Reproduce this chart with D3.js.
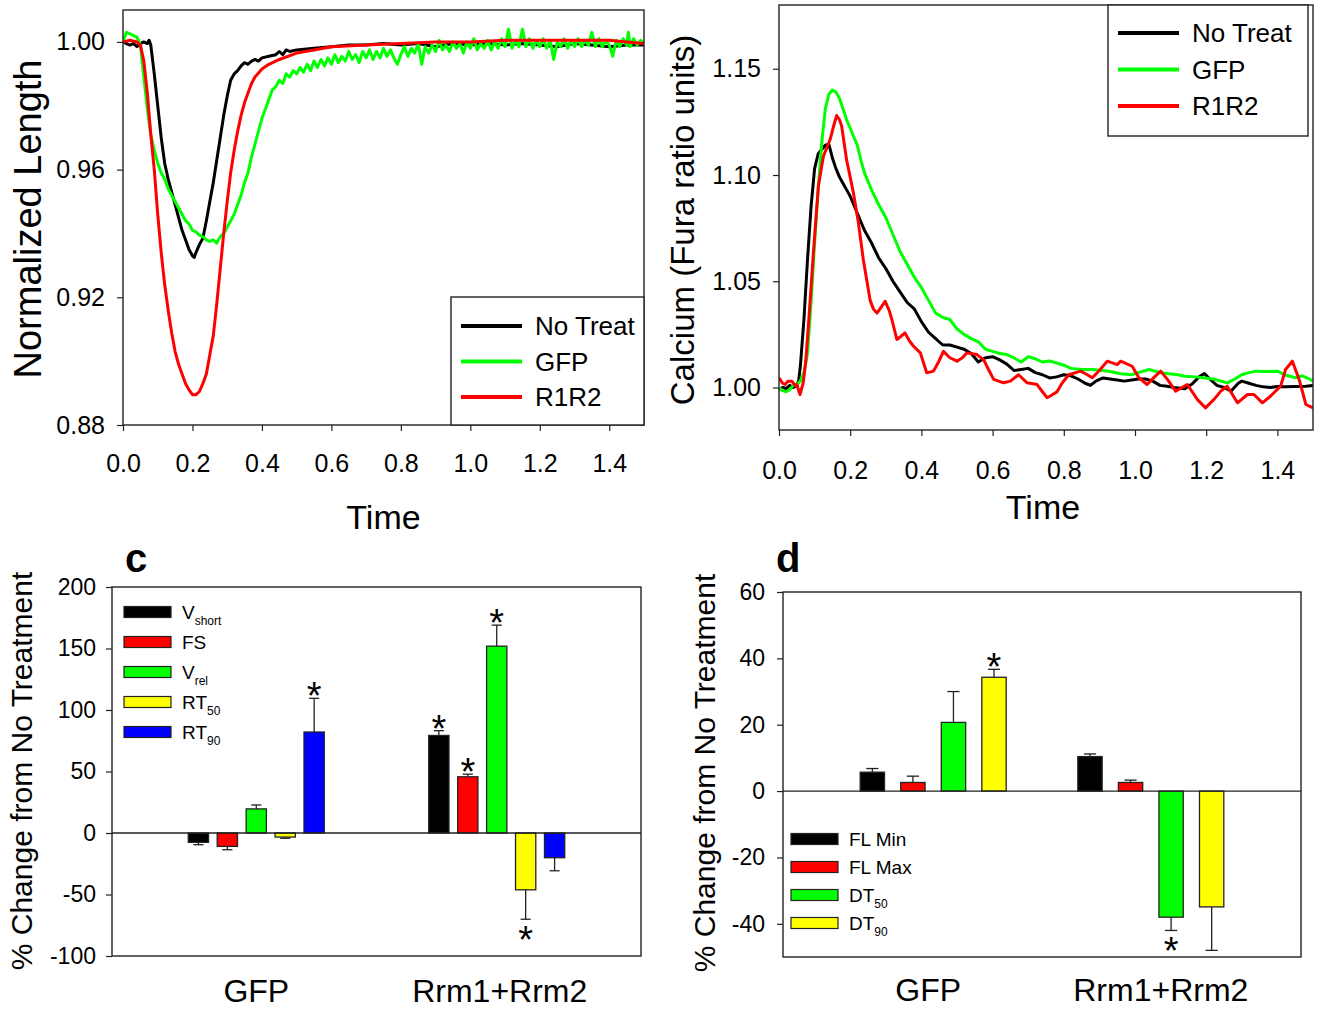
<!DOCTYPE html>
<html>
<head>
<meta charset="utf-8">
<script src="https://cdn.jsdelivr.net/npm/d3@7"></script>
<style>
  body { margin: 0; background: #fff; }
  svg text { font-family: "Liberation Sans", Arial, sans-serif; fill: #000; }
</style>
</head>
<body>
<svg id="fig" width="1323" height="1011"></svg>
<script>
// ---- panel a: normalized length traces, [time, value] ----
const lenNoTreat = [[0,1.000],[0.01,0.9995],[0.02,0.999],[0.03,0.9995],[0.04,0.9985],[0.05,0.9995],[0.06,1.000],[0.07,0.9995],[0.075,1.0005],
  [0.08,0.999],[0.09,0.990],[0.10,0.980],[0.11,0.970],[0.12,0.962],[0.13,0.957],[0.14,0.953],[0.15,0.949],[0.16,0.945],[0.17,0.941],
  [0.18,0.938],[0.19,0.935],[0.20,0.933],[0.205,0.9325],[0.21,0.934],[0.22,0.9365],[0.23,0.9385],[0.24,0.944],[0.25,0.950],[0.26,0.956],
  [0.27,0.963],[0.28,0.970],[0.29,0.977],[0.30,0.983],[0.31,0.988],[0.32,0.990],[0.33,0.991],[0.34,0.9925],[0.35,0.9935],[0.36,0.993],
  [0.37,0.994],[0.38,0.9945],[0.39,0.994],[0.40,0.995],[0.42,0.9955],[0.44,0.996],[0.45,0.997],[0.46,0.996],[0.47,0.9975],[0.48,0.997],
  [0.50,0.9975],[0.55,0.998],[0.60,0.9985],[0.65,0.999],[0.70,0.999],[0.75,0.9995],[0.80,0.999],[0.85,0.9995],[0.90,0.9985],[0.95,0.9995],
  [1.00,0.999],[1.05,0.9995],[1.10,0.999],[1.15,0.9995],[1.20,0.999],[1.25,0.9985],[1.30,0.9995],[1.35,0.999],[1.40,0.9985],[1.45,0.999],[1.50,0.999]];
const lenGFP = [[0,1.000],[0.01,1.003],[0.02,1.0025],[0.03,1.002],[0.04,1.0015],[0.05,0.999],[0.06,0.989],[0.07,0.979],[0.08,0.971],
  [0.09,0.966],[0.10,0.962],[0.11,0.959],[0.12,0.957],[0.13,0.954],[0.14,0.952],[0.15,0.950],[0.16,0.948],[0.17,0.946],[0.18,0.944],
  [0.19,0.943],[0.20,0.941],[0.21,0.9405],[0.22,0.9395],[0.23,0.939],[0.24,0.938],[0.25,0.9375],[0.26,0.938],[0.27,0.937],[0.28,0.939],
  [0.29,0.940],[0.30,0.942],[0.31,0.944],[0.32,0.946],[0.33,0.949],[0.34,0.952],[0.35,0.956],[0.36,0.959],[0.37,0.964],[0.38,0.968],
  [0.39,0.972],[0.40,0.976],[0.41,0.979],[0.42,0.982],[0.43,0.985],[0.44,0.986],[0.45,0.988],[0.46,0.987],[0.47,0.990],[0.48,0.989],
  [0.49,0.991],[0.50,0.990],[0.51,0.992],[0.52,0.9905],[0.53,0.993],[0.54,0.991],[0.55,0.994],[0.56,0.992],[0.57,0.9945],[0.58,0.9925],
  [0.59,0.995],[0.60,0.993],[0.61,0.996],[0.62,0.9935],[0.63,0.9955],[0.64,0.994],[0.65,0.997],[0.66,0.9945],[0.67,0.996],[0.68,0.9935],
  [0.69,0.997],[0.70,0.995],[0.71,0.9975],[0.72,0.9945],[0.73,0.997],[0.74,0.995],[0.75,0.998],[0.76,0.9955],[0.77,0.9975],[0.78,0.995],
  [0.79,0.993],[0.80,0.996],[0.81,0.9985],[0.82,0.9955],[0.83,0.998],[0.84,0.9965],[0.85,0.9995],[0.86,0.993],[0.87,0.9985],[0.88,0.9965],
  [0.89,0.999],[0.90,0.997],[0.91,1.0005],[0.92,0.9975],[0.93,0.999],[0.94,0.997],[0.95,1.000],[0.96,0.998],[0.97,0.9995],[0.98,0.9965],
  [0.99,1.000],[1.00,0.998],[1.01,1.001],[1.02,0.9975],[1.03,0.9995],[1.04,0.998],[1.05,1.0005],[1.06,0.9975],[1.07,1.000],[1.08,0.998],
  [1.09,1.001],[1.10,0.9985],[1.11,1.004],[1.12,0.998],[1.13,1.0005],[1.14,0.9985],[1.15,1.004],[1.16,0.9985],[1.17,1.001],[1.18,0.998],
  [1.19,1.0005],[1.20,0.9985],[1.21,1.001],[1.22,0.998],[1.23,1.0005],[1.24,0.9945],[1.25,1.000],[1.26,0.9985],[1.27,1.001],[1.28,0.998],
  [1.29,1.0005],[1.30,0.9985],[1.31,1.001],[1.32,0.9985],[1.33,1.0005],[1.34,0.999],[1.35,1.003],[1.36,0.9985],[1.37,1.001],[1.38,0.9985],
  [1.39,1.0005],[1.40,0.999],[1.41,0.9955],[1.42,1.0005],[1.43,0.9985],[1.44,1.001],[1.45,0.999],[1.455,1.003],[1.46,0.9985],[1.47,1.001],
  [1.48,0.999],[1.49,1.0005],[1.50,0.9995]];
const lenR1R2 = [[0,1.000],[0.02,1.0005],[0.04,1.000],[0.05,0.999],[0.06,0.994],[0.07,0.984],[0.08,0.971],[0.09,0.960],[0.10,0.946],
  [0.11,0.934],[0.12,0.924],[0.13,0.916],[0.14,0.909],[0.15,0.903],[0.16,0.899],[0.17,0.896],[0.18,0.893],[0.19,0.891],[0.20,0.8895],
  [0.21,0.8895],[0.22,0.8905],[0.23,0.893],[0.24,0.896],[0.25,0.902],[0.26,0.908],[0.27,0.918],[0.28,0.929],[0.29,0.940],[0.30,0.950],
  [0.31,0.959],[0.32,0.966],[0.33,0.972],[0.34,0.977],[0.35,0.981],[0.36,0.984],[0.37,0.987],[0.38,0.989],[0.40,0.9915],[0.42,0.993],
  [0.45,0.9945],[0.50,0.9965],[0.55,0.9975],[0.60,0.9985],[0.70,0.999],[0.80,0.9995],[0.90,1.000],[1.00,1.000],[1.10,1.0005],
  [1.20,1.0005],[1.30,1.0005],[1.40,1.0005],[1.45,1.000],[1.50,0.9995]];

// ---- panel b: calcium traces ----
const caNoTreat = [[0,0.999],[0.01,1.000],[0.02,0.9995],[0.03,1.001],[0.04,1.000],[0.05,1.001],[0.055,1.003],[0.06,1.010],[0.07,1.032],
  [0.08,1.060],[0.09,1.085],[0.10,1.103],[0.11,1.110],[0.12,1.112],[0.13,1.114],[0.14,1.1145],[0.15,1.108],[0.16,1.103],[0.17,1.099],
  [0.18,1.096],[0.19,1.093],[0.20,1.090],[0.22,1.082],[0.24,1.074],[0.26,1.068],[0.28,1.061],[0.30,1.056],[0.32,1.050],[0.34,1.045],
  [0.36,1.040],[0.38,1.037],[0.40,1.031],[0.42,1.026],[0.44,1.023],[0.46,1.020],[0.48,1.020],[0.50,1.019],[0.52,1.018],[0.54,1.016],
  [0.56,1.012],[0.58,1.014],[0.60,1.0145],[0.62,1.013],[0.64,1.011],[0.66,1.008],[0.68,1.0085],[0.70,1.009],[0.72,1.007],[0.74,1.006],
  [0.76,1.0045],[0.78,1.005],[0.80,1.006],[0.82,1.0055],[0.84,1.004],[0.86,1.002],[0.875,1.001],[0.89,1.003],[0.91,1.0045],[0.93,1.004],
  [0.95,1.0035],[0.97,1.003],[0.99,1.0035],[1.01,1.004],[1.03,1.004],[1.05,1.003],[1.07,1.001],[1.09,1.0006],[1.11,1.000],[1.14,0.9994],
  [1.16,1.0016],[1.18,1.005],[1.195,1.0066],[1.21,1.004],[1.23,1.001],[1.25,1.000],[1.27,0.9983],[1.29,1.002],[1.30,1.003],[1.32,1.002],
  [1.34,1.001],[1.36,1.0003],[1.38,1.000],[1.40,1.0005],[1.42,1.0003],[1.45,1.0005],[1.48,1.0006],[1.50,1.001]];
const caGFP = [[0,1.000],[0.01,0.9985],[0.02,0.998],[0.03,0.999],[0.04,1.001],[0.05,1.0015],[0.06,1.003],[0.07,1.007],[0.08,1.016],
  [0.09,1.040],[0.10,1.068],[0.11,1.093],[0.12,1.115],[0.13,1.131],[0.14,1.138],[0.15,1.140],[0.16,1.139],[0.17,1.136],[0.18,1.131],
  [0.19,1.126],[0.20,1.122],[0.21,1.118],[0.22,1.114],[0.23,1.107],[0.24,1.101],[0.25,1.097],[0.26,1.093],[0.28,1.086],[0.30,1.080],
  [0.32,1.072],[0.34,1.064],[0.36,1.058],[0.38,1.052],[0.40,1.047],[0.42,1.041],[0.44,1.035],[0.46,1.033],[0.48,1.032],[0.50,1.0275],
  [0.52,1.025],[0.54,1.023],[0.56,1.0215],[0.58,1.018],[0.60,1.017],[0.62,1.016],[0.64,1.0155],[0.66,1.014],[0.68,1.012],[0.70,1.0145],
  [0.72,1.0135],[0.74,1.012],[0.76,1.0125],[0.78,1.0115],[0.80,1.0105],[0.82,1.009],[0.85,1.0085],[0.88,1.0085],[0.91,1.008],[0.93,1.0075],
  [0.96,1.0065],[0.99,1.006],[1.02,1.0075],[1.04,1.0085],[1.07,1.007],[1.09,1.0066],[1.12,1.006],[1.14,1.0053],[1.17,1.005],[1.19,1.0046],
  [1.22,1.004],[1.26,1.0022],[1.28,1.004],[1.30,1.006],[1.32,1.007],[1.34,1.0077],[1.37,1.0075],[1.40,1.0077],[1.42,1.006],[1.45,1.0046],
  [1.47,1.0055],[1.49,1.004],[1.50,1.003]];
const caR1R2 = [[0,1.0046],[0.01,1.002],[0.017,1.0014],[0.025,1.003],[0.036,1.003],[0.045,1.001],[0.05,1.0014],[0.059,0.9967],[0.068,1.0022],
  [0.075,1.012],[0.0825,1.029],[0.09,1.047],[0.0966,1.0634],[0.104,1.080],[0.1106,1.0947],[0.1247,1.1088],[0.1435,1.1167],[0.155,1.124],
  [0.162,1.128],[0.17,1.126],[0.176,1.123],[0.19,1.107],[0.20,1.099],[0.209,1.0916],[0.223,1.0775],[0.237,1.060],[0.256,1.041],[0.265,1.037],
  [0.275,1.035],[0.288,1.038],[0.298,1.0406],[0.31,1.036],[0.317,1.032],[0.331,1.0226],[0.342,1.024],[0.354,1.0257],[0.366,1.022],
  [0.378,1.0194],[0.397,1.0163],[0.415,1.0069],[0.434,1.0077],[0.448,1.012],[0.462,1.017],[0.48,1.014],[0.50,1.0124],[0.515,1.014],
  [0.528,1.0163],[0.556,1.0155],[0.575,1.013],[0.59,1.008],[0.603,1.0038],[0.631,1.0022],[0.65,1.003],[0.673,1.006],[0.697,1.0022],
  [0.725,1.0014],[0.74,0.998],[0.753,0.9952],[0.762,0.996],[0.781,0.998],[0.795,1.002],[0.814,1.006],[0.847,1.0077],[0.866,1.006],
  [0.88,1.0046],[0.90,1.008],[0.922,1.0124],[0.95,1.0108],[0.96,1.0124],[0.992,1.010],[1.011,1.0046],[1.034,1.0014],[1.055,1.005],
  [1.072,1.0077],[1.091,1.0038],[1.114,0.9983],[1.147,1.0014],[1.175,0.9944],[1.198,0.9904],[1.222,0.9944],[1.241,0.9983],[1.259,1.0006],
  [1.288,0.9928],[1.316,0.9967],[1.334,0.9967],[1.358,0.9928],[1.381,0.996],[1.409,1.0006],[1.423,1.0085],[1.442,1.0124],[1.461,1.0038],
  [1.48,0.992],[1.50,0.9904]];

const traceNames = ["No Treat", "GFP", "R1R2"];
const traceColors = ["#000000", "#00ff00", "#ff0000"];
const timeTicks = [0, 0.2, 0.4, 0.6, 0.8, 1.0, 1.2, 1.4];
const lenTicks = [0.88, 0.92, 0.96, 1.00];
const caTicks = [1.00, 1.05, 1.10, 1.15];

// ---- panel c / d: % change bars ----
const groups = ["GFP", "Rrm1+Rrm2"];
const cNames = ["V", "FS", "V", "RT", "RT"];
const cSubs = ["short", "", "rel", "50", "90"];
const cColors = ["#000000", "#ff0000", "#00ff00", "#ffff00", "#0000ff"];
const cGFP = [-7.6, -10.9, 19.6, -3.3, 82.1];
const cGFPErr = [1.9, 2.7, 3.2, 1.0, 27.4];
const cRrm = [79.3, 45.7, 151.9, -46.2, -20.1];
const cRrmErr = [3.9, 2.1, 17.1, 23.9, 10.6];
const cStars = [[0, 0, 0, 0, 1], [1, 1, 1, 1, 0]];
const cTicks = [-100, -50, 0, 50, 100, 150, 200];

const dNames = ["FL Min", "FL Max", "DT", "DT"];
const dSubs = ["", "", "50", "90"];
const dColors = ["#000000", "#ff0000", "#00ff00", "#ffff00"];
const dGFP = [5.7, 2.6, 20.7, 34.3];
const dGFPErr = [1.1, 1.9, 9.3, 2.4];
const dRrm = [10.4, 2.6, -38.0, -34.9];
const dRrmErr = [0.8, 0.7, 4.0, 13.1];
const dStars = [[0, 0, 0, 1], [0, 0, 1, 0]];
const dTicks = [-40, -20, 0, 20, 40, 60];

const svg = d3.select("#fig");

// ---------- line panels ----------
function tracePanel(o) {
  const x = d3.scaleLinear().domain([0, 1.5]).range([o.left, o.right]);
  const y = d3.scaleLinear().domain(o.yDomain).range([o.bottom, o.top]);
  const g = svg.append("g");
  const clipId = "clip" + o.id;
  g.append("clipPath").attr("id", clipId).append("rect")
    .attr("x", o.left).attr("y", o.top).attr("width", o.right - o.left).attr("height", o.bottom - o.top);

  const line = d3.line().x(d => x(d[0])).y(d => y(d[1]));
  o.series.forEach((s, i) => {
    g.append("path").datum(s)
      .attr("clip-path", `url(#${clipId})`)
      .attr("fill", "none").attr("stroke", traceColors[i])
      .attr("stroke-width", 3).attr("stroke-linejoin", "round")
      .attr("d", line);
  });
  g.append("rect").attr("x", o.left).attr("y", o.top)
    .attr("width", o.right - o.left).attr("height", o.bottom - o.top)
    .attr("fill", "none").attr("stroke", "#222").attr("stroke-width", 1.4);

  const xa = g.append("g").attr("transform", `translate(0,${o.bottom})`)
    .call(d3.axisBottom(x).tickValues(timeTicks).tickFormat(d3.format(".1f")).tickSize(6).tickSizeOuter(0));
  xa.select(".domain").remove();
  xa.selectAll("line").attr("stroke", "#222").attr("stroke-width", 1.2);
  xa.selectAll("text").attr("y", o.xLabY).attr("dy", 0).attr("font-size", 25);

  const ya = g.append("g").attr("transform", `translate(${o.left},0)`)
    .call(d3.axisLeft(y).tickValues(o.yTicks).tickFormat(d3.format(".2f")).tickSize(6).tickPadding(12).tickSizeOuter(0));
  ya.select(".domain").remove();
  ya.selectAll("line").attr("stroke", "#222").attr("stroke-width", 1.2);
  ya.selectAll("text").attr("font-size", 25);

  g.append("text").attr("x", (o.left + o.right) / 2 + o.timeDx).attr("y", o.timeY)
    .attr("text-anchor", "middle").attr("font-size", 34).text("Time");
  g.append("text")
    .attr("transform", `translate(${o.yLabX},${o.yLabY}) rotate(-90)`)
    .attr("text-anchor", "middle").attr("font-size", o.yLabSize).text(o.yLabel);

  // legend
  const lg = g.append("g");
  lg.append("rect").attr("x", o.leg.x).attr("y", o.leg.y).attr("width", o.leg.w).attr("height", o.leg.h)
    .attr("fill", "#fff").attr("stroke", "#222").attr("stroke-width", 1.4);
  traceNames.forEach((n, i) => {
    const ry = o.leg.y + o.leg.row0 + i * o.leg.step;
    lg.append("line").attr("x1", o.leg.x + 10).attr("x2", o.leg.x + 71).attr("y1", ry).attr("y2", ry)
      .attr("stroke", traceColors[i]).attr("stroke-width", 4);
    lg.append("text").attr("x", o.leg.x + 84).attr("y", ry + 9).attr("font-size", 26).text(n);
  });
}

tracePanel({
  id: "a", left: 123, right: 644, top: 10, bottom: 425, yDomain: [0.88, 1.01], yTicks: lenTicks,
  series: [lenNoTreat, lenGFP, lenR1R2], xLabY: 47, timeY: 529, timeDx: 0,
  yLabel: "Normalized Length", yLabX: 41, yLabY: 219, yLabSize: 38,
  leg: { x: 451, y: 297, w: 193, h: 128, row0: 29, step: 35.5 }
});
tracePanel({
  id: "b", left: 779, right: 1313, top: 5, bottom: 430, yDomain: [0.98, 1.18], yTicks: caTicks,
  series: [caNoTreat, caGFP, caR1R2], xLabY: 49, timeY: 519, timeDx: -3,
  yLabel: "Calcium (Fura ratio units)", yLabX: 694, yLabY: 220, yLabSize: 33,
  leg: { x: 1108, y: 5, w: 200, h: 131, row0: 28, step: 36.5 }
});

// ---------- bar panels ----------
function barPanel(o) {
  const y = d3.scaleLinear().domain(o.yDomain).range([o.bottom, o.top]);
  const gx = d3.scalePoint().domain(groups).range([o.left, o.right]).padding(o.groupPad);
  const sx = d3.scaleBand().domain(d3.range(o.colors.length)).range([-o.half, o.half]).paddingInner(o.innerPad);
  const bw = sx.bandwidth();
  const g = svg.append("g");

  g.append("rect").attr("x", o.left).attr("y", o.top).attr("width", o.right - o.left).attr("height", o.bottom - o.top)
    .attr("fill", "none").attr("stroke", "#222").attr("stroke-width", 1.4);

  const ya = g.append("g").attr("transform", `translate(${o.left},0)`)
    .call(d3.axisLeft(y).tickValues(o.ticks).tickFormat(d => String(d)).tickSize(6).tickPadding(o.tickPad).tickSizeOuter(0));
  ya.select(".domain").remove();
  ya.selectAll("line").attr("stroke", "#222").attr("stroke-width", 1.2);
  ya.selectAll("text").attr("font-size", 23);

  [o.gfp, o.rrm].forEach((vals, gi) => {
    const errs = gi === 0 ? o.gfpErr : o.rrmErr;
    const cx = gx(groups[gi]);
    vals.forEach((v, i) => {
      const x0 = cx + sx(i);
      const e = v >= 0 ? v + errs[i] : v - errs[i];
      g.append("line").attr("x1", x0 + bw / 2).attr("x2", x0 + bw / 2).attr("y1", y(v)).attr("y2", y(e))
        .attr("stroke", "#222").attr("stroke-width", 1.3);
      g.append("line").attr("x1", x0 + bw / 4).attr("x2", x0 + bw * 3 / 4).attr("y1", y(e)).attr("y2", y(e))
        .attr("stroke", "#222").attr("stroke-width", 1.3);
      g.append("rect").attr("x", x0).attr("width", bw)
        .attr("y", y(Math.max(0, v))).attr("height", Math.abs(y(v) - y(0)))
        .attr("fill", o.colors[i]).attr("stroke", "#222").attr("stroke-width", 1.3);
      if (o.stars[gi][i]) {
        // asterisk glyph centre sits ~0.57em above the baseline
        const sy = v >= 0 ? y(e) + 11 : y(e) + 34;
        g.append("text").attr("x", x0 + bw / 2).attr("y", sy).attr("text-anchor", "middle")
          .attr("font-size", 38).text("*");
      }
    });
    g.append("text").attr("x", cx + o.catDx[gi]).attr("y", o.catY).attr("text-anchor", "middle")
      .attr("font-size", 32).text(groups[gi]);
  });

  g.append("line").attr("x1", o.left).attr("x2", o.right).attr("y1", y(0)).attr("y2", y(0))
    .attr("stroke", "#222").attr("stroke-width", 1.4);

  g.append("text")
    .attr("transform", `translate(${o.yLabX},${o.yLabY}) rotate(-90)`)
    .attr("text-anchor", "middle").attr("font-size", 30).text("% Change from No Treatment");
  g.append("text").attr("x", o.panelX).attr("y", 572).attr("font-size", 40).attr("font-weight", "bold").text(o.panel);

  // legend
  o.names.forEach((n, i) => {
    const ry = o.leg.y + i * o.leg.step;
    g.append("rect").attr("x", o.leg.x).attr("y", ry - 5.5).attr("width", 47).attr("height", 11)
      .attr("fill", o.colors[i]).attr("stroke", "#222").attr("stroke-width", 1.2);
    const t = g.append("text").attr("x", o.leg.x + 58).attr("y", ry + 7).attr("font-size", 19).text(n);
    if (o.subs[i]) t.append("tspan").attr("dy", 6).attr("font-size", 12).text(o.subs[i]);
  });
}

barPanel({
  left: 112, right: 641, top: 587, bottom: 956, yDomain: [-100, 200], ticks: cTicks, tickPad: 10,
  groupPad: 0.6, half: 68, innerPad: 0.3, colors: cColors, names: cNames, subs: cSubs,
  gfp: cGFP, gfpErr: cGFPErr, rrm: cRrm, rrmErr: cRrmErr, stars: cStars,
  catY: 1002, catDx: [0, 3], yLabX: 32, yLabY: 771, panel: "c", panelX: 125,
  leg: { x: 124, y: 612, step: 30 }
});
barPanel({
  left: 783, right: 1301, top: 592, bottom: 957, yDomain: [-50, 60], ticks: dTicks, tickPad: 12,
  groupPad: 0.69, half: 73, innerPad: 0.4, colors: dColors, names: dNames, subs: dSubs,
  gfp: dGFP, gfpErr: dGFPErr, rrm: dRrm, rrmErr: dRrmErr, stars: dStars,
  catY: 1001, catDx: [-5, 10], yLabX: 715, yLabY: 773, panel: "d", panelX: 776,
  leg: { x: 791, y: 839, step: 28 }
});
</script>
</body>
</html>
